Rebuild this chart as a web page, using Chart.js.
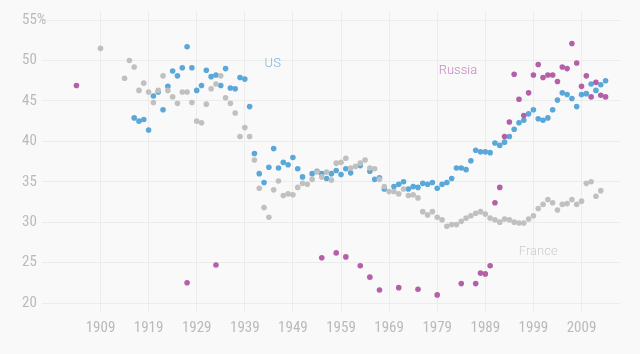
<!DOCTYPE html>
<html>
<head>
<meta charset="utf-8">
<script src="https://cdn.jsdelivr.net/npm/chart.js@4"></script>
<style>
  html, body { margin: 0; padding: 0; background: #f9f9f9; }
  canvas { display: block; }
</style>
</head>
<body>
<canvas id="c" width="640" height="354"></canvas>
<script>
const xTicks = [1909, 1919, 1929, 1939, 1949, 1959, 1969, 1979, 1989, 1999, 2009];
const yTicks = [20, 25, 30, 35, 40, 45, 50, 55];

const usYears = [1916,1917,1918,1919,1920,1921,1922,1923,1924,1925,1926,1927,1928,1929,1930,1931,1932,1933,1934,1935,1936,1937,1938,1939,1940,
  1941,1942,1943,1944,1945,1946,1947,1948,1949,1950,1951,1953,1954,1955,1956,1957,1958,1959,1960,1961,1963,1965,1966,1967,1968,
  1970,1971,1972,1973,1974,1975,1976,1977,1978,1979,1980,1981,1982,1983,1984,1985,1986,1987,1988,1989,1990,1991,1992,1993,1994,
  1995,1996,1997,1998,1999,2000,2001,2002,2003,2004,2005,2006,2007,2008,2009,2010,2011,2012,2013,2014];
const usShare = [42.9,42.5,42.7,41.4,45.6,46.1,43.9,46.8,48.7,48.1,49.1,51.7,49.1,46.3,46.9,48.8,48.0,48.2,46.9,49.0,46.6,46.5,47.9,47.7,44.3,
  38.5,36.0,34.9,36.8,39.1,36.7,37.4,37.1,38.0,36.6,35.6,36.0,36.3,36.0,35.4,36.0,36.4,35.9,36.6,36.1,37.0,36.3,35.3,35.5,34.1,
  34.4,34.7,35.0,34.1,34.4,34.3,34.8,34.7,34.9,34.2,34.7,34.9,35.4,36.7,36.7,36.5,37.6,38.9,38.7,38.7,38.6,39.8,39.5,39.9,40.6,
  41.5,42.3,42.6,43.4,43.9,42.8,42.6,42.9,43.9,45.1,46.0,45.8,45.3,44.3,45.8,45.9,47.1,46.3,47.0,47.5];

const franceYears = [1909,1914,1915,1916,1917,1918,1919,1920,1921,1922,1923,1924,1925,1926,1927,1928,1929,1930,1931,1932,1933,1934,1935,1936,1937,1938,1939,1940,
  1941,1942,1943,1944,1945,1946,1947,1948,1949,1950,1951,1952,1953,1954,1955,1956,1957,1958,1959,1960,1961,1962,1963,1964,1965,1966,1967,1968,1969,1970,
  1971,1972,1973,1974,1975,1976,1977,1978,1979,1980,1981,1982,1983,1984,1985,1986,1987,1988,1989,1990,1991,1992,1993,1994,1995,1996,1997,1998,1999,2000,
  2001,2002,2003,2004,2005,2006,2007,2008,2009,2010,2011,2012,2013];
const franceShare = [51.5,47.8,50.0,49.2,46.3,47.2,46.1,44.8,46.3,48.1,46.3,45.5,44.7,46.1,46.1,44.8,42.5,42.3,44.6,46.5,47.1,48.1,45.4,44.7,43.5,40.6,41.7,40.6,
  37.7,34.2,31.8,30.6,34.0,35.1,33.3,33.5,33.4,34.3,34.8,34.7,35.3,36.2,35.6,36.2,35.2,37.3,37.4,37.9,36.7,36.9,37.3,37.7,36.7,36.6,35.3,34.4,33.8,33.8,
  33.5,34.1,33.3,33.4,33.0,31.3,30.9,31.3,30.6,30.3,29.5,29.7,29.7,30.1,30.5,30.8,31.1,31.3,31.0,30.5,30.3,30.0,30.4,30.3,30.0,29.9,29.9,30.4,30.8,31.7,
  32.2,32.8,32.4,31.5,32.2,32.3,32.8,32.2,32.6,34.8,35.0,33.2,33.9];

const russiaYears = [1904,1927,1933,1955,1958,1960,1963,1965,1967,1971,1975,1979,1984,1987,1988,1989,1990,1991,1992,1993,1994,1995,1996,1997,1998,1999,
  2000,2001,2002,2003,2004,2005,2006,2007,2008,2009,2010,2011,2012,2013,2014];
const russiaShare = [46.9,22.5,24.7,25.6,26.2,25.7,24.6,23.2,21.6,21.9,21.7,21.0,22.4,22.4,23.7,23.6,24.6,32.4,34.3,40.6,42.4,48.3,45.2,43.2,46.0,48.2,
  49.5,47.9,48.2,48.2,47.4,49.2,49.0,52.1,49.7,46.8,48.1,45.5,47.3,45.7,45.5];

const seriesLabels = [
  { text: 'US', year: 1944.8, value: 49.6, color: '#7eb6de' },
  { text: 'Russia', year: 1983.3, value: 48.7, color: '#c886c0' },
  { text: 'France', year: 2000.0, value: 26.3, color: '#cdcdcd' }
];

const toPoints = (xs, ys) => xs.map((x, i) => ({ x: x, y: ys[i] }));

const tickFont = { family: '"Liberation Sans Narrow", "Roboto Condensed", Roboto, sans-serif', size: 15 };
const gridColor = '#ececec';

const labelPlugin = {
  id: 'seriesLabels',
  afterDatasetsDraw(chart) {
    const ctx = chart.ctx;
    const xs = chart.scales.x, ys = chart.scales.y;
    ctx.save();
    ctx.font = '300 13px Roboto, sans-serif';
    ctx.textAlign = 'center';
    ctx.textBaseline = 'middle';
    seriesLabels.forEach(l => {
      ctx.fillStyle = l.color;
      ctx.fillText(l.text, xs.getPixelForValue(l.year), ys.getPixelForValue(l.value));
    });
    ctx.restore();
  }
};

new Chart(document.getElementById('c'), {
  type: 'scatter',
  data: {
    datasets: [
      { label: 'Russia', data: toPoints(russiaYears, russiaShare), backgroundColor: '#b45fa8', pointRadius: 2.8, borderWidth: 0 },
      { label: 'France', data: toPoints(franceYears, franceShare), backgroundColor: '#c0c0c0', pointRadius: 2.8, borderWidth: 0 },
      { label: 'US', data: toPoints(usYears, usShare), backgroundColor: '#5aa7d9', pointRadius: 2.8, borderWidth: 0 }
    ]
  },
  options: {
    responsive: false,
    animation: false,
    devicePixelRatio: 1,
    layout: { padding: { left: 22, right: 20, top: 8, bottom: 0 } },
    plugins: { legend: { display: false }, tooltip: { enabled: false } },
    scales: {
      x: {
        type: 'linear',
        min: 1898.5,
        max: 2017,
        afterBuildTicks: s => { s.ticks = xTicks.map(v => ({ value: v })); },
        afterFit: s => { s.height = 51; },
        grid: { color: gridColor, tickLength: 8 },
        border: { display: false },
        ticks: { font: tickFont, color: '#bababa', padding: 8, maxRotation: 0, autoSkip: false, callback: v => String(v) }
      },
      y: {
        type: 'linear',
        min: 20,
        max: 56,
        afterBuildTicks: s => { s.ticks = yTicks.map(v => ({ value: v })); },
        afterFit: s => { s.width = 28; },
        grid: { color: gridColor, tickLength: 8 },
        border: { display: false },
        ticks: { font: tickFont, color: '#bababa', crossAlign: 'far', callback: v => (v === 55 ? '55%' : String(v)) }
      }
    }
  },
  plugins: [labelPlugin]
});
</script>
</body>
</html>
